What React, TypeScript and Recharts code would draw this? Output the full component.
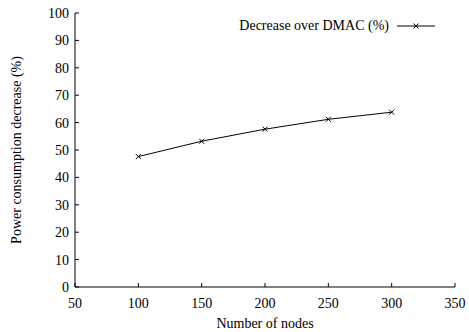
import React from "react";
import {
    LineChart,
    Line,
    XAxis,
    YAxis,
    Legend,
    Label,
} from "recharts";

const nodes = [100, 150, 200, 250, 300];
const decrease = [47.6, 53.2, 57.6, 61.2, 63.8];
const xTicks = [50, 100, 150, 200, 250, 300, 350];
const yTicks = [0, 10, 20, 30, 40, 50, 60, 70, 80, 90, 100];

const data = nodes.map((n, i) => ({ nodes: n, decrease: decrease[i] }));

const FONT = "'Liberation Serif', 'Times New Roman', serif";

const Cross = (props: any) => {
    const { cx, cy } = props;
    if (cx == null || cy == null) return null;
    const s = 2.5;
    return (
        <g>
            <line x1={cx - s} y1={cy - s} x2={cx + s} y2={cy + s} stroke="#000" strokeWidth={1} />
            <line x1={cx - s} y1={cy + s} x2={cx + s} y2={cy - s} stroke="#000" strokeWidth={1} />
        </g>
    );
};

const LegendBox = () => (
    <div style={{ display: "flex", alignItems: "center", fontFamily: FONT, fontSize: 14, color: "#000" }}>
        <span>Decrease over DMAC (%)</span>
        <svg width={46} height={10}>
            <line x1={8} y1={5} x2={46} y2={5} stroke="#000" strokeWidth={1} />
            <Cross cx={27} cy={5} />
        </svg>
    </div>
);

export default function App() {
    return (
        <div style={{ position: "absolute", left: 0, top: 0, background: "#fff" }}>
            <LineChart
                width={469}
                height={332}
                data={data}
                margin={{ top: 13, right: 14, left: 0, bottom: 0 }}
            >
                <XAxis
                    dataKey="nodes"
                    type="number"
                    domain={[50, 350]}
                    ticks={xTicks}
                    height={45}
                    stroke="#000"
                    tickSize={-4}
                    tickMargin={15}
                    tick={{ fill: "#000", fontFamily: FONT, fontSize: 14 }}
                >
                    <Label
                        value="Number of nodes"
                        position="insideBottom"
                        offset={4}
                        style={{ fill: "#000", fontFamily: FONT, fontSize: 14 }}
                    />
                </XAxis>
                <XAxis
                    xAxisId="top"
                    dataKey="nodes"
                    type="number"
                    orientation="top"
                    domain={[50, 350]}
                    ticks={xTicks}
                    height={0}
                    stroke="#000"
                    tickSize={-4}
                    tick={() => null}
                />
                <YAxis
                    type="number"
                    domain={[0, 100]}
                    ticks={yTicks}
                    width={75}
                    stroke="#000"
                    tickSize={-4}
                    tickMargin={10}
                    tick={{ fill: "#000", fontFamily: FONT, fontSize: 14 }}
                >
                    <Label
                        value="Power consumption decrease (%)"
                        angle={-90}
                        position="insideLeft"
                        offset={16}
                        style={{ textAnchor: "middle", fill: "#000", fontFamily: FONT, fontSize: 14 }}
                    />
                </YAxis>
                <YAxis
                    yAxisId="right"
                    type="number"
                    orientation="right"
                    domain={[0, 100]}
                    ticks={yTicks}
                    width={0}
                    stroke="#000"
                    tickSize={-4}
                    tick={() => null}
                />
                <Legend
                    layout="vertical"
                    verticalAlign="middle"
                    align="center"
                    content={() => <LegendBox />}
                    wrapperStyle={{ top: 18, right: 34, left: "auto", width: "auto" }}
                />
                <Line
                    type="linear"
                    dataKey="decrease"
                    stroke="#000"
                    strokeWidth={1}
                    dot={<Cross />}
                    activeDot={false}
                    legendType="none"
                    isAnimationActive={false}
                />
            </LineChart>
        </div>
    );
}
